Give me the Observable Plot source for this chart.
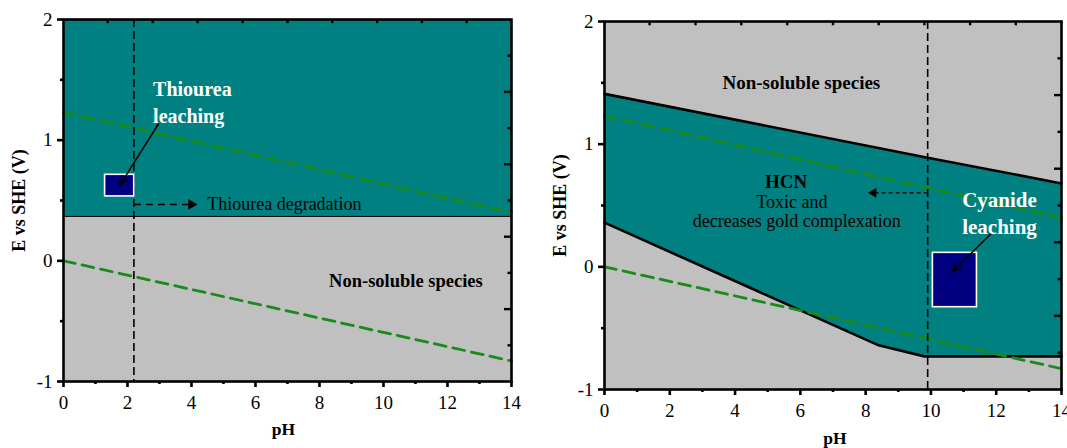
<!DOCTYPE html>
<html><head><meta charset="utf-8">
<script src="https://cdn.jsdelivr.net/npm/d3@7"></script>
<script src="https://cdn.jsdelivr.net/npm/@observablehq/plot@0.6"></script>
<style>
body{margin:0;background:#fff;}
#wrap{position:relative;width:1067px;height:448px;overflow:hidden;background:#fff;}
#left{position:absolute;left:0;top:0;}
#right{position:absolute;left:540px;top:0;}
</style></head><body>
<div id="wrap"><div id="left"></div><div id="right"></div></div>
<script>
// ---------- shared axis data ----------
const pHTicks = [0, 2, 4, 6, 8, 10, 12, 14];
const pHMinor = [1, 3, 5, 7, 9, 11, 13];
const eTicks = [-1, 0, 1, 2];
const eMinor = [-0.5, 0.5, 1.5];
const topTickPH = [1.38, 2.79, 4.19, 5.6, 7.0, 8.4, 9.8, 11.2, 12.6];
const rightTickE = [1.7, 1.4, 1.1, 0.8, 0.5, 0.2, -0.1, -0.4, -0.7];
const xLabel = "pH";
const yLabel = "E vs SHE (V)";

// ---------- water stability lines ----------
const waterPH = [0, 14];
const waterO2E = [1.23, 0.40];
const waterH2E = [0, -0.83];

// ---------- left panel: thiourea ----------
const thioPH = [0, 14];
const thioLimitE = [0.368, 0.368];
const thioBoxPH = [1.30, 2.21];
const thioBoxE = [0.534, 0.713];
const thioDegradationPH = [2.2];
const thioLeachText = ["Thiourea\nleaching"];
const thioLeachTextPH = [2.80];
const thioLeachTextE = [1.326];
const thioArrowPH = [2.97, 1.75];
const thioArrowE = [1.136, 0.622];
const thioDegArrowPH = [2.2, 4.12];
const thioDegArrowE = [0.467, 0.467];
const thioDegText = ["Thiourea degradation"];
const thioDegTextPH = [4.49];
const thioDegTextE = [0.467];
const thioNonSolText = ["Non-soluble species"];
const thioNonSolPH = [10.7];
const thioNonSolE = [-0.17];

// ---------- right panel: cyanide ----------
const cnUpperPH = [0, 9.9, 14];
const cnUpperE = [1.41, 0.89, 0.68];
const cnLowerPH = [0, 8.4, 9.8, 14];
const cnLowerE = [0.36, -0.64, -0.73, -0.73];
const cnHCNPH = [9.9];
const cnBoxPH = [10.06, 11.41];
const cnBoxE = [-0.329, 0.114];
const cnLeachText = ["Cyanide\nleaching"];
const cnLeachTextPH = [12.1];
const cnLeachTextE = [0.452];
const cnArrowPH = [11.84, 10.64];
const cnArrowE = [0.269, -0.044];
const cnHcnArrowPH = [9.9, 8.12];
const cnHcnArrowE = [0.603, 0.603];
const cnHcnTitle = ["HCN"];
const cnHcnTitlePH = [5.56];
const cnHcnTitleE = [0.689];
const cnHcnLines = ["Toxic and", "decreases gold complexation"];
const cnHcnLinesPH = [5.74, 5.89];
const cnHcnLinesE = [0.526, 0.371];
const cnNonSolText = ["Non-soluble species"];
const cnNonSolPH = [6.03];
const cnNonSolE = [1.50];

// ---------- styles ----------
const teal = "#008080", grey = "#c0c0c0", navy = "#000080", green = "#1a8a1a";
const font = "Liberation Serif";

const zipXY = (xs, ys) => xs.map((x, i) => ({x, y: ys[i]}));

function frameAndAxes(pxPerPH) {
  return [
    Plot.frame({stroke: "black", strokeWidth: 2.6}),
    Plot.axisX({ticks: pHTicks, tickSize: 6, tickPadding: 8, strokeWidth: 2.6, tickFormat: d => String(d), label: null, fontSize: 19}),
    Plot.axisX({ticks: pHMinor, tickSize: 3, strokeWidth: 2.6, tickFormat: () => "", label: null}),
    Plot.axisY({ticks: eTicks, tickSize: 6, tickPadding: 5, strokeWidth: 2.6, tickFormat: d => String(d), label: null, fontSize: 19}),
    Plot.axisY({ticks: eMinor, tickSize: 3, strokeWidth: 2.6, tickFormat: () => "", label: null}),
    Plot.ruleX(topTickPH, {x: d => d, y1: 2, y2: 1.965, strokeWidth: 2.4}),
    Plot.ruleY(rightTickE, {y: d => d, x1: 14, x2: (d, i) => i % 2 ? 14 - 7 / pxPerPH : 14 - 3.5 / pxPerPH, strokeWidth: 2.4})
  ];
}

function axisLabels(dxY, dyX, dxX) {
  return [
    Plot.text([yLabel], {x: () => 0, y: () => 0.5, dx: dxY, rotate: -90, text: d => d, fontFamily: font, fontWeight: "bold", fontSize: 18, fill: "black"}),
    Plot.text([xLabel], {frameAnchor: "bottom", dy: dyX, dx: dxX, text: d => d, fontFamily: font, fontWeight: "bold", fontSize: 17.5, fill: "black"})
  ];
}

// ---------- left plot ----------
const thioRows = thioPH.map((ph, i) => ({ph, e: thioLimitE[i]}));
const leftPlot = Plot.plot({
  width: 540, height: 448,
  marginLeft: 63, marginRight: 29, marginTop: 19, marginBottom: 67,
  x: {domain: [0, 14], label: null},
  y: {domain: [-1, 2], label: null},
  style: {fontFamily: font, fontSize: "19px", color: "black", background: "transparent", overflow: "visible"},
  marks: [
    Plot.areaY(thioRows, {x: "ph", y1: -1, y2: "e", fill: grey}),
    Plot.areaY(thioRows, {x: "ph", y1: "e", y2: 2, fill: teal}),
    Plot.lineY(thioRows, {x: "ph", y: "e", stroke: "black", strokeWidth: 1}),
    Plot.line(zipXY(waterPH, waterO2E), {x: "x", y: "y", stroke: green, strokeWidth: 2.8, strokeDasharray: "12,7"}),
    Plot.line(zipXY(waterPH, waterH2E), {x: "x", y: "y", stroke: green, strokeWidth: 2.8, strokeDasharray: "12,7"}),
    Plot.ruleX(thioDegradationPH, {x: d => d, stroke: "black", strokeWidth: 1.6, strokeDasharray: "8,4"}),
    Plot.rect([0], {x1: () => thioBoxPH[0], x2: () => thioBoxPH[1], y1: () => thioBoxE[0], y2: () => thioBoxE[1], fill: navy, stroke: "white", strokeWidth: 1.6}),
    Plot.arrow([0], {x1: () => thioArrowPH[0], y1: () => thioArrowE[0], x2: () => thioArrowPH[1], y2: () => thioArrowE[1], stroke: "black", strokeWidth: 1.5, headLength: 10, headAngle: 40}),
    Plot.link([0], {x1: () => thioDegArrowPH[0], y1: () => thioDegArrowE[0], x2: () => thioDegArrowPH[1], y2: () => thioDegArrowE[1], stroke: "black", strokeWidth: 1.6, strokeDasharray: "7,5"}),
    Plot.dot([0], {x: () => thioDegArrowPH[1], y: () => thioDegArrowE[1], symbol: "triangle", rotate: 90, r: 4, dx: -4, fill: "black", stroke: null}),
    Plot.text(thioLeachText, {x: (d, i) => thioLeachTextPH[i], y: (d, i) => thioLeachTextE[i], text: d => d, textAnchor: "start", lineHeight: 1.33, fontFamily: font, fontWeight: "bold", fontSize: 20, fill: "white"}),
    Plot.text(thioDegText, {x: (d, i) => thioDegTextPH[i], y: (d, i) => thioDegTextE[i], text: d => d, textAnchor: "start", fontFamily: font, fontSize: 18, fill: "black"}),
    Plot.text(thioNonSolText, {x: (d, i) => thioNonSolPH[i], y: (d, i) => thioNonSolE[i], text: d => d, fontFamily: font, fontWeight: "bold", fontSize: 18.5, fill: "black"}),
    ...frameAndAxes(447.4 / 14),
    ...axisLabels(-44, 53, -4)
  ]
});
document.getElementById("left").appendChild(leftPlot);

// ---------- right plot ----------
const cnPolygon = zipXY(cnUpperPH, cnUpperE).concat(zipXY(cnLowerPH, cnLowerE).reverse());
const rightPlot = Plot.plot({
  width: 527, height: 448,
  marginLeft: 64, marginRight: 6, marginTop: 21, marginBottom: 59,
  x: {domain: [0, 14], label: null},
  y: {domain: [-1, 2], label: null},
  style: {fontFamily: font, fontSize: "19px", color: "black", background: "transparent", overflow: "visible"},
  marks: [
    Plot.frame({fill: grey, stroke: null}),
    Plot.line(cnPolygon, {x: "x", y: "y", fill: teal, stroke: null}),
    Plot.line(zipXY(cnUpperPH, cnUpperE), {x: "x", y: "y", stroke: "black", strokeWidth: 2.6}),
    Plot.line(zipXY(cnLowerPH, cnLowerE), {x: "x", y: "y", stroke: "black", strokeWidth: 2.6}),
    Plot.line(zipXY(waterPH, waterO2E), {x: "x", y: "y", stroke: green, strokeWidth: 2.8, strokeDasharray: "12,7"}),
    Plot.line(zipXY(waterPH, waterH2E), {x: "x", y: "y", stroke: green, strokeWidth: 2.8, strokeDasharray: "12,7"}),
    Plot.ruleX(cnHCNPH, {x: d => d, stroke: "black", strokeWidth: 1.6, strokeDasharray: "8,4"}),
    Plot.rect([0], {x1: () => cnBoxPH[0], x2: () => cnBoxPH[1], y1: () => cnBoxE[0], y2: () => cnBoxE[1], fill: navy, stroke: "white", strokeWidth: 1.6}),
    Plot.arrow([0], {x1: () => cnArrowPH[0], y1: () => cnArrowE[0], x2: () => cnArrowPH[1], y2: () => cnArrowE[1], stroke: "black", strokeWidth: 1.5, headLength: 10, headAngle: 40}),
    Plot.link([0], {x1: () => cnHcnArrowPH[0], y1: () => cnHcnArrowE[0], x2: () => cnHcnArrowPH[1], y2: () => cnHcnArrowE[1], stroke: "black", strokeWidth: 1.3, strokeDasharray: "4,3"}),
    Plot.dot([0], {x: () => cnHcnArrowPH[1], y: () => cnHcnArrowE[1], symbol: "triangle", rotate: -90, r: 3.6, dx: 4, fill: "black", stroke: null}),
    Plot.text(cnLeachText, {x: (d, i) => cnLeachTextPH[i], y: (d, i) => cnLeachTextE[i], text: d => d, lineHeight: 1.29, fontFamily: font, fontWeight: "bold", fontSize: 21, fill: "white"}),
    Plot.text(cnHcnTitle, {x: (d, i) => cnHcnTitlePH[i], y: (d, i) => cnHcnTitleE[i], text: d => d, fontFamily: font, fontWeight: "bold", fontSize: 19, fill: "black"}),
    Plot.text(cnHcnLines, {x: (d, i) => cnHcnLinesPH[i], y: (d, i) => cnHcnLinesE[i], text: d => d, fontFamily: font, fontSize: 18, fill: "black"}),
    Plot.text(cnNonSolText, {x: (d, i) => cnNonSolPH[i], y: (d, i) => cnNonSolE[i], text: d => d, fontFamily: font, fontWeight: "bold", fontSize: 19, fill: "black"}),
    ...frameAndAxes(457 / 14),
    ...axisLabels(-44, 54, 2)
  ]
});
document.getElementById("right").appendChild(rightPlot);
</script>
</body></html>
